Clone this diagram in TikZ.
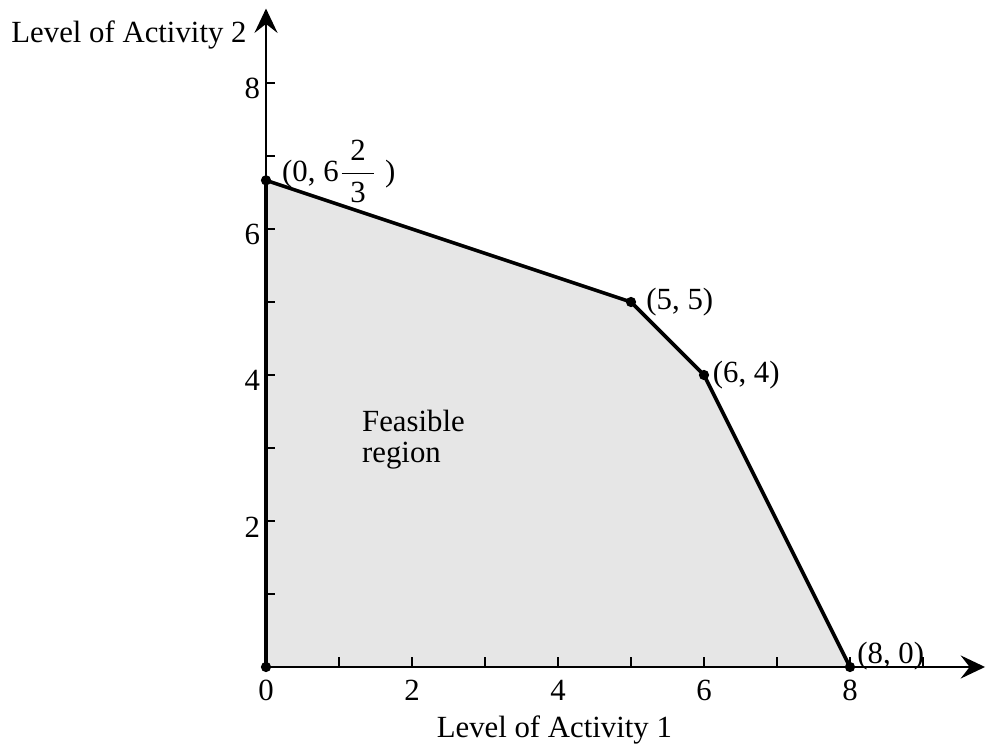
\documentclass[tikz,border=0pt]{standalone}
\usepackage{amsmath}
\usepackage{fontspec}
\setmainfont{Liberation Serif}
\usepackage{tikz}
\usetikzlibrary{positioning, arrows.meta, calc}
\definecolor{regionfill}{RGB}{230,230,230}

\begin{document}
\begin{tikzpicture}[
        font=\fontsize{12}{12}\selectfont,
        axis/.style={line width=0.8pt, -{Stealth[length=9.5pt, width=9pt, inset=3.5pt]}},
        edge/.style={line width=1.4pt, line join=round},
        corner/.style={circle, fill=black, inner sep=0pt, minimum size=4pt},
        lbl/.style={inner sep=1pt}
    ]
    \useasboundingbox (-3.644,-1.068) rectangle (9.877,9.137);

    % corner points of the region
    \coordinate (O) at (0,0);
    \coordinate (A) at (0,20/3);
    \coordinate (B) at (5,5);
    \coordinate (C) at (6,4);
    \coordinate (D) at (8,0);
    \coordinate (xend) at (9.85,0);
    \coordinate (yend) at (0,9.02);

    \fill[regionfill] (O) -- (A) -- (B) -- (C) -- (D) -- cycle;

    % axes
    \draw[axis] (O) -- (xend);
    \draw[axis] (O) -- (yend);
    \foreach \t in {1,...,9}
        \draw[line width=0.8pt] (\t,0) -- (\t,0.14);
    \foreach \t in {1,...,8}
        \draw[line width=0.8pt] (0,\t) -- (0.12,\t);
    \foreach \t in {0,2,4,6,8}
        \node[lbl, anchor=north] (xt\t) at (\t,-0.14) {\t};
    \foreach \t in {2,4,6,8}
        \node[lbl, anchor=east] (yt\t) at (-0.04,\t-0.08) {\t};

    % boundary
    \draw[edge] (O) -- (A) -- (B) -- (C) -- (D);

    \foreach \p in {O,A,B,C,D}
        \node[corner] (dot\p) at (\p) {};

    \node[lbl, anchor=west] (labA) at ($(A)+(0.18,0.12)$) {(0, 6$\dfrac{\mkern5mu\text{2}\mkern5mu}{\text{3}}$\ )};
    \node[lbl, anchor=west] (labB) at ($(B)+(0.17,0)$) {(5, 5)};
    \node[lbl, anchor=west] (labC) at ($(C)+(0.08,0)$) {(6, 4)};
    \node[lbl, anchor=base west] (labD) at ($(D)+(0.06,0.05)$) {(8, 0)};

    \node[align=left, anchor=north west, inner sep=0pt] (feas) at (1.31,3.52) {Feasible\\region};

    \node[anchor=base] (xlab) at (3.95,-0.96) {Level of Activity 1};
    \node[anchor=base east, inner sep=0pt] (ylab) at (-0.26,8.55) {Level of Activity 2};

    \end{tikzpicture}
\end{document}
